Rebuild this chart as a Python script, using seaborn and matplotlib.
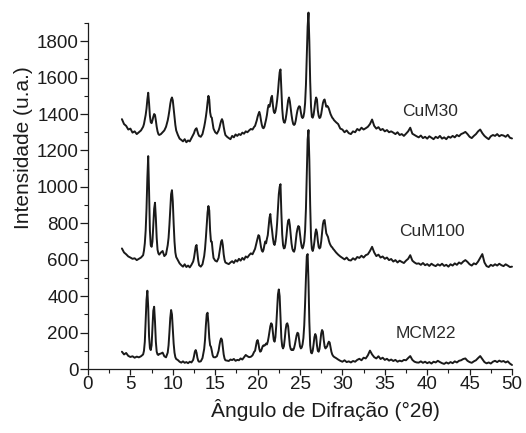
import numpy as np
import pandas as pd
import matplotlib
matplotlib.use("Agg")
import matplotlib.pyplot as plt
import seaborn as sns
from matplotlib.ticker import MultipleLocator

# ---------------- data ----------------
grid_segments = [(4.0, 6.5, 0.25), (6.6, 8.4, 0.1), (8.6, 9.4, 0.2), (9.5, 10.4, 0.1),
                 (10.6, 12.4, 0.2), (12.5, 13.1, 0.1), (13.3, 13.7, 0.2), (13.8, 14.8, 0.1),
                 (15.0, 15.4, 0.2), (15.5, 16.2, 0.1), (16.4, 19.6, 0.2), (19.7, 29.0, 0.1),
                 (29.25, 50.0, 0.25)]
two_theta = np.concatenate([np.round(np.arange(a, b + s / 2, s), 2) for a, b, s in grid_segments])

cum30 = [
    1372, 1345, 1335, 1315, 1320, 1298, 1305, 1290, 1300, 1310, 1330,
    1345, 1370, 1395, 1430, 1480, 1517, 1460, 1390, 1355, 1350, 1365, 1385, 1400, 1395, 1365, 1330, 1305, 1290, 1285,
    1290, 1300, 1310, 1330, 1365,
    1390, 1420, 1455, 1480, 1491, 1475, 1430, 1380, 1340, 1310,
    1285, 1265, 1258, 1250, 1262, 1245, 1255, 1250, 1268, 1285,
    1295, 1310, 1318, 1322, 1305, 1290, 1280,
    1275, 1290, 1330,
    1355, 1385, 1420, 1465, 1500, 1480, 1410, 1385, 1380, 1350, 1320,
    1300, 1292, 1310,
    1325, 1345, 1362, 1372, 1360, 1330, 1305, 1285,
    1275, 1268, 1262, 1280, 1272, 1288, 1280, 1290, 1285, 1298, 1292, 1305, 1300, 1310, 1318, 1315, 1330,
    1335, 1350, 1365, 1385, 1400, 1412, 1395, 1365, 1340, 1325,
    1322, 1330, 1350, 1370, 1395, 1430, 1450, 1440, 1460, 1490,
    1500, 1450, 1415, 1405, 1415, 1440, 1475, 1520, 1580, 1630,
    1645, 1540, 1430, 1375, 1355, 1352, 1370, 1400, 1440, 1475,
    1491, 1470, 1430, 1395, 1365, 1345, 1340, 1345, 1365, 1395,
    1420, 1435, 1443, 1440, 1410, 1385, 1378, 1385, 1410, 1460,
    1560, 1720, 1880, 1957, 1800, 1580, 1440, 1385, 1380, 1395,
    1430, 1470, 1491, 1480, 1420, 1390, 1378, 1382, 1400, 1430,
    1460, 1475, 1480, 1460, 1440, 1445, 1440, 1430, 1415, 1400,
    1390, 1380, 1375, 1367,
    1355, 1345, 1320, 1315, 1300, 1310, 1295, 1290,
    1305, 1300, 1318, 1310, 1325, 1315, 1322, 1330,
    1345, 1370, 1335, 1320, 1328, 1312, 1318, 1305,
    1312, 1300, 1305, 1298, 1290, 1300, 1285, 1290,
    1280, 1292, 1305, 1325, 1292, 1285, 1278, 1272,
    1282, 1268, 1275, 1265, 1278, 1270, 1262, 1275,
    1268, 1280, 1265, 1272, 1262, 1276, 1270, 1280,
    1272, 1285, 1278, 1290, 1295, 1302, 1290, 1275,
    1268, 1280, 1290, 1305, 1315, 1295, 1280, 1270,
    1262, 1278, 1285, 1280, 1290, 1278, 1285, 1282,
    1275, 1286, 1270, 1266,
]

cum100 = [
    662, 640, 630, 618, 612, 605, 608, 598, 605, 612, 625,
    650, 690, 760, 880, 1050, 1169, 980, 760, 680, 671, 700, 790, 880, 913, 830, 720, 655, 635, 628,
    640, 648, 620, 630, 680,
    720, 790, 880, 960, 982, 920, 800, 700, 640, 615,
    598, 580, 570, 562, 575, 560, 568, 558, 572, 590,
    610, 640, 672, 681, 640, 595, 570,
    562, 575, 620,
    660, 720, 790, 860, 895, 870, 760, 700, 699, 650, 610,
    595, 590, 610,
    640, 670, 700, 708, 680, 630, 600, 585,
    580, 576, 585, 592, 582, 598, 590, 605, 595, 610, 600, 618, 612, 625, 635, 630, 650,
    660, 680, 700, 718, 735, 730, 700, 670, 650, 644,
    655, 680, 700, 690, 715, 735, 780, 830, 851, 800,
    763, 720, 690, 681, 700, 740, 800, 880, 960, 1000,
    1015, 860, 740, 680, 662, 665, 690, 730, 780, 815,
    821, 790, 740, 690, 660, 648, 644, 660, 700, 745,
    770, 785, 780, 740, 700, 672, 662, 675, 700, 760,
    880, 1080, 1260, 1312, 1150, 900, 720, 660, 648, 665,
    700, 745, 767, 750, 705, 670, 662, 668, 700, 750,
    795, 815, 818, 780, 745, 735, 725, 705, 690, 680,
    672, 668, 660, 655,
    640, 628, 618, 610, 602, 612, 598, 596,
    608, 600, 615, 610, 622, 612, 625, 630,
    648, 671, 640, 620, 628, 612, 618, 605,
    612, 598, 604, 590, 598, 585, 595, 588,
    582, 595, 605, 625, 595, 585, 578, 580,
    572, 582, 570, 576, 566, 578, 570, 565,
    575, 568, 578, 566, 572, 562, 575, 568,
    580, 572, 585, 578, 590, 598, 588, 575,
    568, 580, 575, 590, 610, 631, 585, 565,
    560, 572, 566, 575, 568, 578, 570, 565,
    575, 568, 560, 562,
]

mcm22 = [
    95, 80, 88, 72, 66, 70, 62, 68, 64, 70, 80,
    100, 150, 260, 380, 430, 340, 180, 115, 104, 130, 220, 320, 342, 260, 150, 95, 80, 77, 82,
    85, 90, 70, 64, 90,
    130, 200, 280, 324, 300, 220, 140, 90, 65, 55,
    49, 40, 35, 42, 34, 38, 32, 40, 36, 50,
    70, 95, 104, 90, 62, 45, 40,
    42, 60, 110,
    160, 240, 300, 309, 250, 170, 130, 122, 100, 75, 65,
    64, 70, 100,
    130, 155, 168, 160, 120, 80, 58, 48,
    46, 44, 52, 49, 55, 45, 50, 48, 58, 52, 65, 77, 70, 65, 67, 75, 95,
    100, 125, 150, 159, 140, 110, 95, 98, 112, 125,
    130, 128, 132, 140, 135, 150, 175, 205, 235, 251,
    245, 200, 160, 150, 175, 240, 330, 410, 437, 400,
    280, 170, 125, 113, 125, 165, 215, 245, 251, 235,
    180, 130, 110, 104, 108, 104, 115, 135, 160, 185,
    199, 195, 160, 125, 113, 118, 135, 170, 240, 360,
    500, 620, 631, 480, 260, 130, 90, 86, 100, 135,
    175, 192, 180, 130, 100, 95, 110, 150, 195, 214,
    205, 160, 125, 113, 118, 125, 140, 150, 145, 120,
    95, 80, 72, 67,
    60, 52, 45, 40, 48, 38, 42, 36,
    44, 40, 50, 56, 48, 62, 58, 75,
    101, 80, 65, 58, 70, 55, 62, 50,
    56, 46, 52, 44, 50, 40, 46, 42,
    50, 48, 60, 71, 50, 40, 36, 35,
    42, 34, 40, 32, 38, 30, 40, 36,
    45, 38, 32, 28, 36, 30, 38, 32,
    42, 36, 45, 48, 55, 58, 45, 38,
    34, 42, 48, 60, 71, 55, 38, 31,
    36, 30, 40, 45, 38, 46, 40, 44,
    36, 42, 30, 22,
]

series_names = ["CuM30", "CuM100", "MCM22"]
series_values = [cum30, cum100, mcm22]
label_x = [37.0, 36.7, 36.3]
label_y = [1390, 728, 170]

x_ticks = [0, 5, 10, 15, 20, 25, 30, 35, 40, 45, 50]
y_ticks = [0, 200, 400, 600, 800, 1000, 1200, 1400, 1600, 1800]

for name, vals in zip(series_names, series_values):
    if len(vals) != len(two_theta):
        raise ValueError(f"{name}: {len(vals)} values vs {len(two_theta)} angles")

frames = [pd.DataFrame({"angle": two_theta, "intensity": v, "sample": n})
          for n, v in zip(series_names, series_values)]
df = pd.concat(frames, ignore_index=True)

# ---------------- plot ----------------
sns.set_style("ticks")
plt.rcParams["font.family"] = ["Liberation Sans", "DejaVu Sans"]

fig = plt.figure(figsize=(5.26, 4.33), dpi=100)
ax = fig.add_axes([0.1673, 0.1478, 0.8061, 0.7991])

line_color = "#1a1a1a"
sns.lineplot(data=df, x="angle", y="intensity", hue="sample", units="sample",
             palette=[line_color] * 3, estimator=None, sort=False, legend=False,
             linewidth=1.4, clip_on=False, ax=ax)

for name, lx, ly in zip(series_names, label_x, label_y):
    ax.text(lx, ly, name, fontsize=12.5, color="#2a2a2a", ha="left", va="baseline")

ax.set_xlim(0, 50)
ax.set_ylim(0, 1900)
ax.set_xticks(x_ticks)
ax.set_yticks(y_ticks)
ax.xaxis.set_minor_locator(MultipleLocator(2.5))
ax.yaxis.set_minor_locator(MultipleLocator(100))
ax.tick_params(axis="both", which="major", direction="out", labelsize=13.5,
               colors="#1c1c1c", width=0.9)
ax.tick_params(axis="x", which="major", length=4, pad=1)
ax.tick_params(axis="y", which="major", length=5.5, pad=1)
ax.tick_params(axis="both", which="minor", direction="out", length=3, width=0.8, colors="#1c1c1c")

sns.despine(ax=ax)
for side in ("left", "bottom"):
    ax.spines[side].set_linewidth(0.9)
    ax.spines[side].set_color("#1c1c1c")

ax.set_xlabel("Ângulo de Difração (°2θ)", fontsize=15, color="#1c1c1c")
ax.set_ylabel("Intensidade (u.a.)", fontsize=15, color="#1c1c1c")
ax.xaxis.set_label_coords(0.559, -0.087)
ax.yaxis.set_label_coords(-0.130, 0.639)

fig.savefig("out.png", dpi=100)
